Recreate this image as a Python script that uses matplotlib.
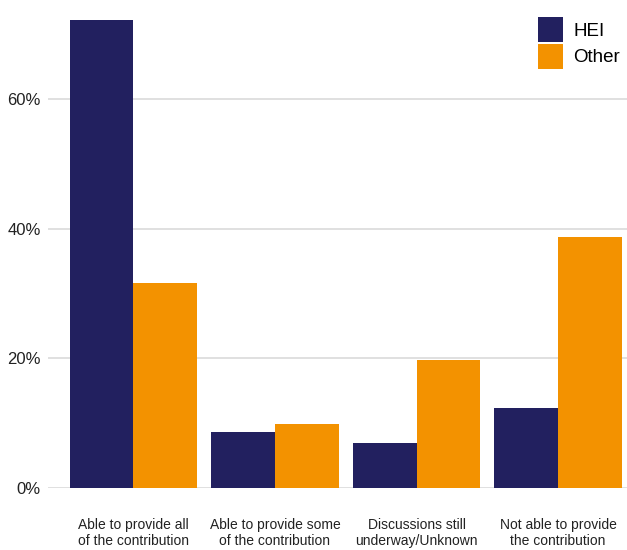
import matplotlib
matplotlib.use("Agg")
import matplotlib.pyplot as plt
import numpy as np

categories = ["Able to provide all\nof the contribution",
              "Able to provide some\nof the contribution",
              "Discussions still\nunderway/Unknown",
              "Not able to provide\nthe contribution"]
hei = [72.2, 8.6, 6.9, 12.3]
other = [31.6, 9.8, 19.7, 38.7]
yticks = [0, 20, 40, 60]
ytick_labels = ["0%", "20%", "40%", "60%"]

plt.rcParams['font.family'] = ['Liberation Sans', 'DejaVu Sans']

fig = plt.figure(figsize=(6.27, 5.5), dpi=100)
ax = fig.add_axes([48.3/627, 62.3/550, 1 - 48.3/627, 487.7/550])

x = np.arange(len(categories))
w = 0.45
ax.bar(x - w/2, hei, width=w, color="#22205F", label="HEI", zorder=3)
ax.bar(x + w/2, other, width=w, color="#F39200", label="Other", zorder=3)

ax.set_xlim(-0.6, 3.486)
ax.set_ylim(0, 75.3)
ax.set_yticks(yticks)
ax.set_yticklabels(ytick_labels, fontsize=12, color="#222222")
ax.set_xticks(x)
ax.set_xticklabels(categories, fontsize=10, color="#222222", linespacing=1.2)
ax.tick_params(axis='both', length=0)
ax.tick_params(axis='x', pad=21.5)
ax.tick_params(axis='y', pad=5.5)
for s in ax.spines.values():
    s.set_visible(False)
ax.grid(axis='y', color="#dddddd", linewidth=1.3, zorder=0)
ax.set_axisbelow(True)

leg = ax.legend(loc='upper left', bbox_to_anchor=(538/627, 1 - 17/550),
                bbox_transform=fig.transFigure, frameon=False, fontsize=13.5,
                handlelength=1.33, handleheight=1.67, labelspacing=0.1,
                handletextpad=0.55, borderpad=0, borderaxespad=0)

fig.savefig("out.png", dpi=100)
